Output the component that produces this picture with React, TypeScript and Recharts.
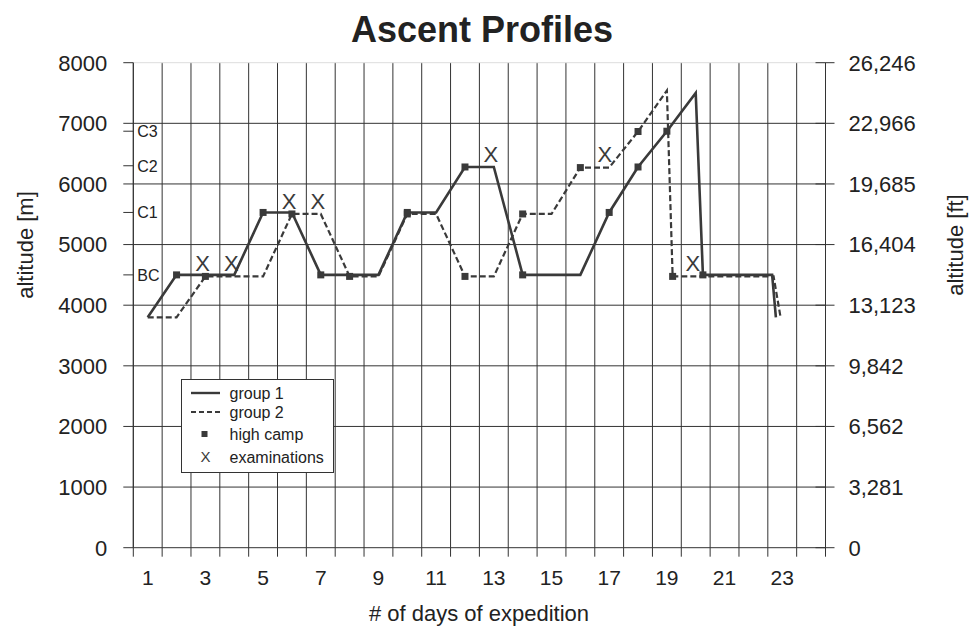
import React from "react";
import { CartesianGrid, ComposedChart, Label, Line, ReferenceLine, Scatter, XAxis, YAxis } from "recharts";

const dayLabels = [1, 3, 5, 7, 9, 11, 13, 15, 17, 19, 21, 23];
const dayLines = [0.5, 1.5, 2.5, 3.5, 4.5, 5.5, 6.5, 7.5, 8.5, 9.5, 10.5, 11.5, 12.5, 13.5, 14.5, 15.5, 16.5, 17.5, 18.5, 19.5, 20.5, 21.5, 22.5, 23.5, 24.5];
const altTicks = [0, 1000, 2000, 3000, 4000, 5000, 6000, 7000, 8000];
const altGrid = [1000, 2000, 3000, 4000, 5000, 6000, 7000];
const ftLabels = ["0", "3,281", "6,562", "9,842", "13,123", "16,404", "19,685", "22,966", "26,246"];
const campNames = ["BC", "C1", "C2", "C3"];
const campAlts = [4500, 5530, 6300, 6870];

// group 1 (solid)
const g1Days = [1, 2, 4, 5, 6, 7, 9, 10, 11, 12, 13, 14, 16, 17, 18, 19, 20, 20.25, 22.65, 22.78];
const g1Alt = [3800, 4500, 4500, 5530, 5530, 4500, 4500, 5530, 5530, 6280, 6280, 4500, 4500, 5530, 6280, 6870, 7500, 4500, 4500, 3800];
// group 2 (dashed)
const g2Days = [1, 2, 3, 5, 6, 7, 8, 9, 10, 11, 12, 13, 14, 15, 16, 17, 18, 19, 19.2, 22.7, 22.95];
const g2Alt = [3800, 3800, 4475, 4475, 5505, 5505, 4475, 4475, 5505, 5505, 4475, 4475, 5505, 5505, 6270, 6270, 6865, 7540, 4475, 4475, 3780];
// high camps
const camp1Days = [2, 5, 7, 10, 12, 14, 17, 18, 19, 20.25];
const camp1Alt = [4500, 5530, 4500, 5530, 6280, 4500, 5530, 6280, 6870, 4500];
const camp2Days = [3, 6, 8, 10, 12, 14, 16, 18, 19.2];
const camp2Alt = [4475, 5505, 4475, 5505, 4475, 5505, 6270, 6865, 4475];
// examinations
const examDays = [2.9, 3.9, 5.9, 6.9, 12.9, 16.85, 19.9];
const examAlt = [4700, 4700, 5710, 5710, 6490, 6490, 4700];

const toPoints = (days: number[], alts: number[]) => days.map((day, i) => ({ day, alt: alts[i] }));

const group1 = toPoints(g1Days, g1Alt);
const group2 = toPoints(g2Days, g2Alt);
const camps1 = toPoints(camp1Days, camp1Alt);
const camps2 = toPoints(camp2Days, camp2Alt);
const exams = toPoints(examDays, examAlt);

const xTicks = [...dayLines, ...dayLabels].sort((a, b) => a - b);
const yTicks = [...altTicks, ...campAlts].sort((a, b) => a - b);

const INK = "#3a3a3a";
const TEXT = "#222";
const FONT = '"Liberation Sans", Arial, Helvetica, sans-serif';

const DayTick = (props: any) => {
  const { x, y, payload } = props;
  if (dayLabels.includes(payload.value)) {
    return (
      <text x={x} y={y + 22} dy="0.71em" textAnchor="middle" fontSize={21} fill={TEXT}>
        {payload.value}
      </text>
    );
  }
  return <line x1={x} x2={x} y1={y} y2={y + 9} stroke="#333" />;
};

// left axis: metres outside, camp names inside the plot
const MetreTick = (props: any) => {
  const { x, y, payload } = props;
  const camp = campAlts.indexOf(payload.value);
  if (camp >= 0) {
    return (
      <text x={x + 30} y={y} dy="0.36em" textAnchor="start" fontSize={16} fill={TEXT}>
        {campNames[camp]}
      </text>
    );
  }
  return (
    <text x={x} y={y} dy="0.36em" textAnchor="end" fontSize={22} fill={TEXT}>
      {payload.value}
    </text>
  );
};

const FtTick = (props: any) => {
  const { x, y, payload } = props;
  const idx = altTicks.indexOf(payload.value);
  return (
    <g>
      <line x1={x - 33} x2={x - 23} y1={y} y2={y} stroke="#333" />
      <text x={x} y={y} dy="0.36em" textAnchor="start" fontSize={22} fill={TEXT}>
        {ftLabels[idx]}
      </text>
    </g>
  );
};

const Square = (props: any) => {
  const { cx, cy } = props;
  return <rect x={cx - 3.5} y={cy - 3.5} width={7} height={7} fill={INK} />;
};

const Cross = (props: any) => {
  const { cx, cy } = props;
  return (
    <text x={cx} y={cy} dy="0.36em" textAnchor="middle" fontSize={22} fill={INK}>
      X
    </text>
  );
};

const legendItems = [
  { label: "group 1", kind: "solid", y: 14 },
  { label: "group 2", kind: "dashed", y: 33 },
  { label: "high camp", kind: "square", y: 55 },
  { label: "examinations", kind: "cross", y: 78 },
];

const LegendBox = () => (
  <svg width={154} height={95} style={{ position: "absolute", left: 181, top: 379 }}>
    <rect x={0.5} y={0.5} width={152} height={93} fill="#fff" stroke="#333" />
    {legendItems.map((it) => (
      <g key={it.label}>
        {it.kind === "solid" && <line x1={10} x2={39} y1={it.y} y2={it.y} stroke={INK} strokeWidth={2.4} />}
        {it.kind === "dashed" && (
          <line x1={10} x2={39} y1={it.y} y2={it.y} stroke={INK} strokeWidth={2} strokeDasharray="5 3" />
        )}
        {it.kind === "square" && <rect x={20.5} y={it.y - 3} width={6} height={6} fill={INK} />}
        {it.kind === "cross" && (
          <text x={24.5} y={it.y} dy="0.36em" textAnchor="middle" fontSize={15} fill={INK}>
            X
          </text>
        )}
        <text x={48.5} y={it.y} dy="0.36em" fontSize={16} fill={TEXT}>
          {it.label}
        </text>
      </g>
    ))}
  </svg>
);

export default function App() {
  return (
    <div style={{ position: "absolute", left: 0, top: 0, width: 974, height: 627, fontFamily: FONT, background: "#fff" }}>
      <div
        style={{
          position: "absolute",
          left: 0,
          top: 12,
          width: 964,
          textAlign: "center",
          fontSize: 36,
          lineHeight: "36px",
          fontWeight: "bold",
          color: TEXT,
        }}
      >
        Ascent Profiles
      </div>
      <ComposedChart width={974} height={627} margin={{ top: 62.7, right: 48.5, bottom: 39.3, left: 33.3 }}>
        <CartesianGrid
          xAxisId="d"
          yAxisId="m"
          verticalValues={dayLines}
          horizontalValues={altGrid}
          stroke="#333"
          strokeWidth={1}
        />
        <XAxis
          xAxisId="d"
          dataKey="day"
          type="number"
          domain={[0.5, 24.5]}
          allowDataOverflow
          ticks={xTicks}
          interval={0}
          tickLine={false}
          tickSize={0}
          tickMargin={0}
          tick={<DayTick />}
          axisLine={{ stroke: "#333" }}
          height={40}
        >
          <Label
            content={() => (
              <text x={479} y={621} textAnchor="middle" fontSize={22} fill={TEXT}>
                # of days of expedition
              </text>
            )}
          />
        </XAxis>
        <YAxis
          yAxisId="m"
          type="number"
          domain={[0, 8000]}
          ticks={yTicks}
          interval={0}
          width={100}
          tickSize={10}
          tickMargin={16}
          tick={<MetreTick />}
          tickLine={{ stroke: "#333" }}
          axisLine={{ stroke: "#333" }}
        >
          <Label
            content={() => (
              <text
                x={25}
                y={245}
                transform="rotate(-90 25 245)"
                textAnchor="middle"
                dominantBaseline="central"
                fontSize={22}
                fill={TEXT}
              >
                altitude [m]
              </text>
            )}
          />
        </YAxis>
        <YAxis
          yAxisId="ft"
          orientation="right"
          type="number"
          domain={[0, 8000]}
          ticks={altTicks}
          interval={0}
          width={100}
          tickSize={9}
          tickMargin={14}
          tick={<FtTick />}
          tickLine={{ stroke: "#333" }}
          axisLine={{ stroke: "#333" }}
        >
          <Label
            content={() => (
              <text
                x={955}
                y={245}
                transform="rotate(-90 955 245)"
                textAnchor="middle"
                dominantBaseline="central"
                fontSize={22}
                fill={TEXT}
              >
                altitude [ft]
              </text>
            )}
          />
        </YAxis>
        <ReferenceLine xAxisId="d" yAxisId="m" y={8000} stroke="#ddd" ifOverflow="visible" />
        {/* carries the feet axis, draws nothing */}
        <Line
          xAxisId="d"
          yAxisId="ft"
          data={group1}
          dataKey="alt"
          stroke="none"
          dot={false}
          activeDot={false}
          isAnimationActive={false}
        />
        <Line
          xAxisId="d"
          yAxisId="m"
          data={group1}
          dataKey="alt"
          type="linear"
          stroke={INK}
          strokeWidth={2.6}
          dot={false}
          activeDot={false}
          isAnimationActive={false}
        />
        <Line
          xAxisId="d"
          yAxisId="m"
          data={group2}
          dataKey="alt"
          type="linear"
          stroke={INK}
          strokeWidth={2.2}
          strokeDasharray="6 3"
          dot={false}
          activeDot={false}
          isAnimationActive={false}
        />
        <Scatter xAxisId="d" yAxisId="m" data={camps1} dataKey="alt" shape={<Square />} isAnimationActive={false} />
        <Scatter xAxisId="d" yAxisId="m" data={camps2} dataKey="alt" shape={<Square />} isAnimationActive={false} />
        <Scatter xAxisId="d" yAxisId="m" data={exams} dataKey="alt" shape={<Cross />} isAnimationActive={false} />
      </ComposedChart>
      <LegendBox />
    </div>
  );
}
